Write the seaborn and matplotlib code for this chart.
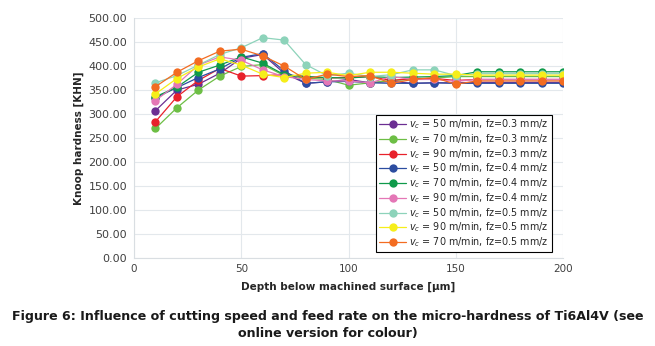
import numpy as np
import pandas as pd
import seaborn as sns
import matplotlib
matplotlib.use("Agg")
import matplotlib.pyplot as plt

# depth positions [um]
depth = [10, 20, 30, 40, 50, 60, 70, 80, 90, 100,
         110, 120, 130, 140, 150, 160, 170, 180, 190, 200]

labels = [
    r"$v_c$ = 50 m/min, fz=0.3 mm/z",
    r"$v_c$ = 70 m/min, fz=0.3 mm/z",
    r"$v_c$ = 90 m/min, fz=0.3 mm/z",
    r"$v_c$ = 50 m/min, fz=0.4 mm/z",
    r"$v_c$ = 70 m/min, fz=0.4 mm/z",
    r"$v_c$ = 90 m/min, fz=0.4 mm/z",
    r"$v_c$ = 50 m/min, fz=0.5 mm/z",
    r"$v_c$ = 90 m/min, fz=0.5 mm/z",
    r"$v_c$ = 70 m/min, fz=0.5 mm/z",
]

v50_f03 = [307, 350, 362, 385, 416, 424, 385, 364, 367, 372, 365, 368, 364, 365, 365, 366, 366, 366, 366, 366]
v70_f03 = [270, 313, 350, 379, 399, 403, 380, 375, 372, 360, 365, 370, 372, 375, 378, 378, 378, 378, 378, 378]
v90_f03 = [284, 336, 370, 395, 379, 380, 382, 378, 375, 376, 378, 370, 374, 374, 370, 372, 372, 372, 372, 372]
v50_f04 = [334, 355, 376, 394, 418, 426, 390, 364, 367, 368, 365, 364, 364, 365, 364, 364, 364, 364, 364, 364]
v70_f04 = [336, 356, 387, 402, 419, 406, 382, 378, 376, 375, 378, 376, 377, 378, 380, 388, 388, 388, 388, 388]
v90_f04 = [328, 362, 402, 419, 412, 392, 378, 372, 369, 369, 365, 378, 372, 372, 368, 372, 372, 372, 372, 372]
v50_f05 = [365, 380, 402, 424, 438, 459, 454, 403, 380, 385, 378, 382, 392, 392, 380, 384, 384, 384, 384, 384]
v90_f05 = [342, 374, 398, 415, 402, 383, 376, 385, 387, 380, 387, 387, 385, 383, 383, 381, 381, 381, 381, 381]
v70_f05 = [357, 387, 411, 431, 435, 421, 400, 372, 383, 378, 380, 364, 372, 376, 362, 369, 369, 369, 369, 369]

series = [v50_f03, v70_f03, v90_f03, v50_f04, v70_f04, v90_f04, v50_f05, v90_f05, v70_f05]
colors = ["#6B2E92", "#6DBE45", "#E8212B", "#2C4DA0", "#0F9A4A",
          "#E477B6", "#8DD3BA", "#F6EE1A", "#F36C21"]

sns.set_style("whitegrid", {"grid.color": "#E3E8EC", "axes.edgecolor": "#D9DEE2"})
plt.rcParams['font.family'] = ['DejaVu Sans']

fig = plt.figure(figsize=(6.55, 3.46), dpi=100)
ax = fig.add_axes([0.2046, 0.254, 0.655, 0.694])

for lab, vals, c in zip(labels, series, colors):
    sns.lineplot(x=depth, y=vals, ax=ax, color=c, marker="o", markersize=6,
                 markeredgewidth=0, linewidth=0.9, label=lab)

ax.set_xlim(0, 200)
ax.set_ylim(0, 500)
ax.set_xticks([0, 50, 100, 150, 200])
ax.set_yticks(np.arange(0, 501, 50))
ax.set_yticklabels([f"{v:.2f}" for v in np.arange(0, 501, 50)])
ax.tick_params(axis="y", labelsize=8, colors="#404040", length=0, pad=5)
ax.tick_params(axis="x", labelsize=7.5, colors="#404040", length=0, pad=4)
for s in ["top", "right"]:
    ax.spines[s].set_visible(False)

ax.set_xlabel("Depth below machined surface [µm]", fontsize=7.5, fontweight="bold", color="#262626", labelpad=6)
ax.set_ylabel("Knoop hardness [KHN]", fontsize=7.5, fontweight="bold", color="#262626", labelpad=3)

leg = ax.legend(loc="lower right", bbox_to_anchor=(0.985, 0.005), fontsize=6.9,
                frameon=True, fancybox=False, edgecolor="black", framealpha=1,
                handlelength=2.9, labelspacing=0.1, borderpad=0.3, handletextpad=0.3)
leg.get_frame().set_linewidth(0.8)

fig.text(0.5, 0.085, "Figure 6: Influence of cutting speed and feed rate on the micro-hardness of Ti6Al4V (see",
         ha="center", va="center", fontsize=9.1, fontweight="bold", color="#1a1a1a")
fig.text(0.5, 0.036, "online version for colour)",
         ha="center", va="center", fontsize=9.1, fontweight="bold", color="#1a1a1a")

fig.savefig("out.png", dpi=100)
